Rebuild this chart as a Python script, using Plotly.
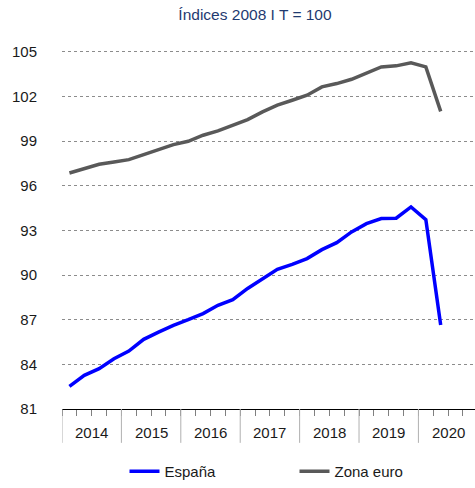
import plotly.graph_objects as go

# Quarterly index, 2008 Q1 = 100 (2014 Q1 .. 2020 Q2)
quarters = [f"{y} T{q}" for y in range(2014, 2021) for q in range(1, 5)][:26]
espana = [82.52, 83.26, 83.71, 84.38, 84.89, 85.68, 86.17, 86.62, 87.00, 87.41,
          87.97, 88.35, 89.10, 89.76, 90.39, 90.72, 91.11, 91.71, 92.18, 92.90,
          93.46, 93.80, 93.82, 94.58, 93.73, 86.65]
zona_euro = [96.86, 97.16, 97.45, 97.60, 97.76, 98.10, 98.46, 98.77, 98.99, 99.40,
             99.69, 100.07, 100.45, 100.97, 101.42, 101.75, 102.09, 102.65, 102.87, 103.16,
             103.59, 103.99, 104.06, 104.26, 103.99, 101.00]
years = [2014, 2015, 2016, 2017, 2018, 2019, 2020]
y_ticks = [81, 84, 87, 90, 93, 96, 99, 102, 105]

x_idx = list(range(len(quarters)))

fig = go.Figure()
fig.add_trace(go.Scatter(x=x_idx, y=espana, mode="lines", name="España",
                         line=dict(color="#0000FF", width=3.5), text=quarters,
                         hovertemplate="%{text}: %{y:.2f}<extra>España</extra>"))
fig.add_trace(go.Scatter(x=x_idx, y=zona_euro, mode="lines", name="Zona euro",
                         line=dict(color="#595959", width=3.5), text=quarters,
                         hovertemplate="%{text}: %{y:.2f}<extra>Zona euro</extra>"))

# Quarter boundary ticks along the category axis
n_q = len(years) * 4
quarter_bounds = [i - 0.5 for i in range(n_q + 1)]

shapes = []
# Year separators extending below the axis
for k in range(len(years) + 1):
    xb = 4 * k - 0.5
    shapes.append(dict(type="line", xref="x", yref="paper", x0=xb, x1=xb,
                       y0=0, y1=-0.091, line=dict(color="#b0b0b0", width=1)))

annotations = []
for k, yr in enumerate(years):
    annotations.append(dict(x=4 * k + 1.5, y=-0.064, xref="x", yref="paper",
                            text=str(yr), showarrow=False, yanchor="middle",
                            font=dict(size=15, color="#1a1a1a")))

fig.update_layout(
    width=475, height=488,
    margin=dict(l=62, r=0, t=37, b=79),
    paper_bgcolor="white", plot_bgcolor="white",
    font=dict(family="Liberation Sans, Arial, sans-serif", size=15, color="#1a1a1a"),
    title=dict(text="Índices 2008 I T = 100", x=255 / 475, xanchor="center",
               xref="container", y=1 - 15 / 488, yanchor="middle", yref="container",
               font=dict(size=15.5, color="#1F3A70")),
    showlegend=True,
    legend=dict(orientation="h", x=0.5 + 26 / 413, xanchor="center", y=-0.168,
                yanchor="middle", font=dict(size=15, color="#1a1a1a"), entrywidth=125,
                entrywidthmode="pixels", itemwidth=30),
    shapes=shapes,
    annotations=annotations,
)

fig.update_xaxes(range=[-0.5, 27.31], tickvals=quarter_bounds,
                 ticktext=[""] * len(quarter_bounds), ticks="outside", ticklen=6,
                 tickcolor="#808080", tickwidth=1, showgrid=False, zeroline=False,
                 showline=True, linecolor="black", linewidth=1)
fig.update_yaxes(range=[81, 106], tickvals=y_ticks, ticks="outside", ticklen=21,
                 tickcolor="rgba(0,0,0,0)", showgrid=True, gridcolor="#8c8c8c",
                 griddash="dot", gridwidth=1, zeroline=False, showline=False,
                 tickfont=dict(size=15, color="#1a1a1a"))

fig.write_html("out.html")
